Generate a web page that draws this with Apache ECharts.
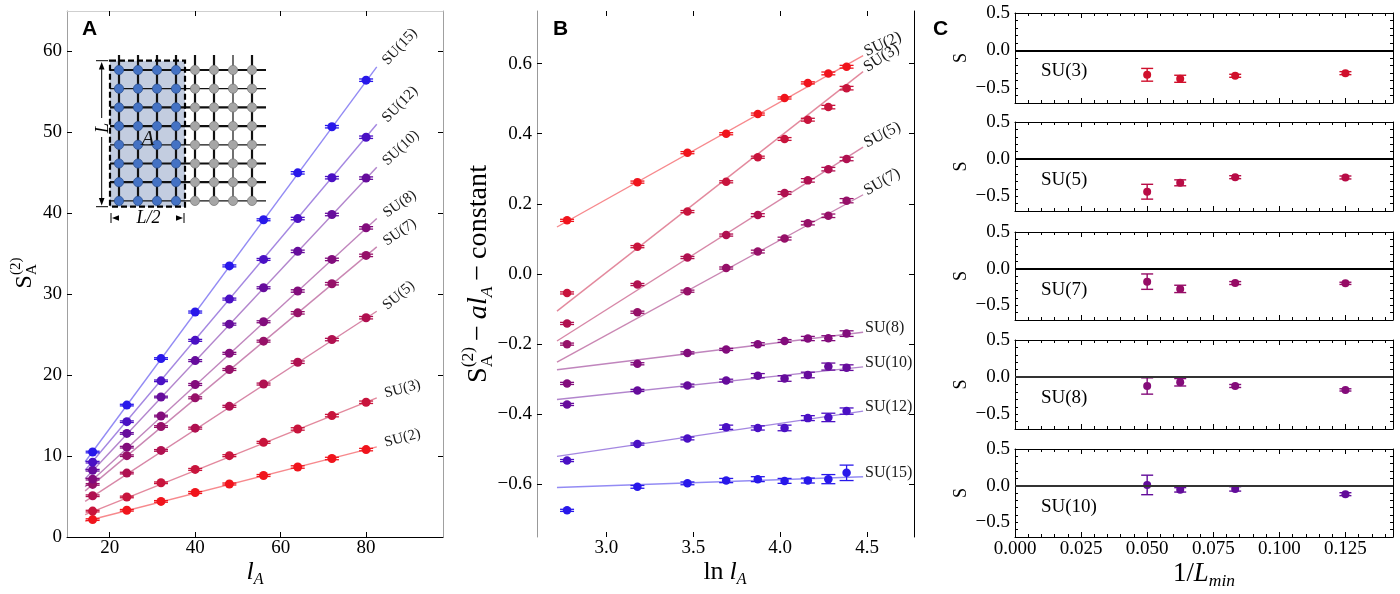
<!DOCTYPE html>
<html>
<head>
<meta charset="utf-8" />
<title>SU(N) Renyi entropy</title>
<script src="https://cdn.jsdelivr.net/npm/echarts@6/dist/echarts.min.js"></script>
<style>
  html, body { margin: 0; background: #fff; }
  #main { width: 1400px; height: 594px; }
</style>
</head>
<body>
<div id="main"></div>
<script>
// ---------- data ----------
var groups = ['SU(2)', 'SU(3)', 'SU(5)', 'SU(7)', 'SU(8)', 'SU(10)', 'SU(12)', 'SU(15)'];
var colors = ['#f0141c', '#c8143c', '#b01050', '#961068', '#820c7c', '#660c9c', '#4a10c4', '#2818ea'];

// panel A : S_A^(2) vs l_A
var lA = [16, 24, 32, 40, 48, 56, 64, 72, 80];
var entropyA = [
  [2.15, 3.3, 4.4, 5.5, 6.55, 7.6, 8.65, 9.7, 10.8],          // SU(2)
  [3.2, 4.95, 6.7, 8.35, 10.05, 11.7, 13.35, 15.0, 16.65],    // SU(3)
  [5.1, 7.9, 10.7, 13.45, 16.15, 18.9, 21.6, 24.4, 27.1],     // SU(5)
  [6.5, 10.05, 13.65, 17.2, 20.7, 24.2, 27.7, 31.3, 34.8],    // SU(7)
  [7.15, 11.1, 14.95, 18.85, 22.7, 26.6, 30.4, 34.3, 38.2],   // SU(8)
  [8.25, 12.8, 17.3, 21.8, 26.3, 30.8, 35.3, 39.85, 44.35],   // SU(10)
  [9.25, 14.25, 19.3, 24.3, 29.4, 34.3, 39.35, 44.4, 49.4],   // SU(12)
  [10.5, 16.3, 22.05, 27.8, 33.5, 39.2, 45.0, 50.7, 56.45]    // SU(15)
];
var errA = [0.1, 0.1, 0.1, 0.12, 0.12, 0.12, 0.15, 0.15, 0.15];
var fitAx = [14.25, 82.5];
var fitA = [[1.94, 11.13], [2.77, 17.2], [4.4, 27.9], [5.7, 35.85],
            [6.2, 39.35], [7.2, 45.7], [8.25, 51.0], [9.3, 58.1]];

// panel B : S_A^(2) - a l_A - constant vs ln l_A
var lnLA = [2.773, 3.178, 3.466, 3.689, 3.871, 4.025, 4.159, 4.277, 4.382];
var residB = [
  [0.153, 0.262, 0.346, 0.400, 0.456, 0.502, 0.545, 0.572, 0.591],
  [-0.054, 0.078, 0.178, 0.263, 0.333, 0.385, 0.440, 0.476, 0.530],
  [-0.141, -0.030, 0.047, 0.111, 0.168, 0.231, 0.267, 0.299, 0.328],
  [-0.200, -0.109, -0.049, 0.017, 0.064, 0.101, 0.145, 0.166, 0.209],
  [-0.312, -0.256, -0.225, -0.215, -0.200, -0.191, -0.184, -0.183, -0.170],
  [-0.372, -0.332, -0.318, -0.304, -0.290, -0.298, -0.288, -0.264, -0.267],
  [-0.532, -0.485, -0.469, -0.437, -0.439, -0.439, -0.411, -0.409, -0.391],
  [-0.674, -0.607, -0.597, -0.589, -0.585, -0.590, -0.589, -0.585, -0.567]
];
var errB = [
  [0.003, 0.003, 0.003, 0.003, 0.003, 0.003, 0.003, 0.004, 0.004],
  [0.003, 0.003, 0.003, 0.003, 0.003, 0.004, 0.004, 0.005, 0.005],
  [0.003, 0.003, 0.003, 0.003, 0.004, 0.004, 0.005, 0.005, 0.005],
  [0.003, 0.003, 0.003, 0.003, 0.004, 0.004, 0.005, 0.005, 0.006],
  [0.003, 0.003, 0.003, 0.003, 0.004, 0.004, 0.006, 0.007, 0.008],
  [0.003, 0.003, 0.004, 0.004, 0.006, 0.008, 0.008, 0.010, 0.008],
  [0.003, 0.003, 0.004, 0.006, 0.006, 0.008, 0.007, 0.012, 0.009],
  [0.003, 0.004, 0.004, 0.006, 0.007, 0.007, 0.007, 0.013, 0.022]
];
var fitBx = [2.715, 4.477];
var fitB = [[0.134, 0.623], [-0.106, 0.577], [-0.191, 0.362], [-0.251, 0.226],
            [-0.273, -0.166], [-0.358, -0.265], [-0.52, -0.391], [-0.609, -0.578]];

// panel C : s vs 1/L_min
var cGroups = ['SU(3)', 'SU(5)', 'SU(7)', 'SU(8)', 'SU(10)'];
var cColors = ['#d0102c', '#b80c46', '#960c66', '#840c7a', '#620c9a'];
var invLmin = [0.05, 0.0625, 0.0833, 0.125];
var sC = [
  [-0.324, -0.377, -0.337, -0.302],
  [-0.44, -0.32, -0.244, -0.248],
  [-0.177, -0.276, -0.196, -0.2],
  [-0.12, -0.07, -0.12, -0.173],
  [0.01, -0.057, -0.044, -0.116]
];
var sCerr = [
  [0.085, 0.047, 0.02, 0.02],
  [0.1, 0.04, 0.02, 0.02],
  [0.105, 0.05, 0.02, 0.015],
  [0.11, 0.05, 0.02, 0.015],
  [0.133, 0.03, 0.03, 0.02]
];

// tick labels
var ticksAx = [20, 40, 60, 80];
var ticksAy = [0, 10, 20, 30, 40, 50, 60];
var ticksBx = [3.0, 3.5, 4.0, 4.5];
var ticksBy = [-0.6, -0.4, -0.2, 0.0, 0.2, 0.4, 0.6];
var ticksCx = [0, 0.025, 0.05, 0.075, 0.1, 0.125];
var ticksCy = [-0.5, 0.0, 0.5];

// ---------- layout ----------
var SERIF = 'Liberation Serif';
var cTops = [13, 122, 232, 340, 449];
var cHeights = [90, 89, 88, 89, 88];

var grids = [
  { left: 67, top: 11, width: 376, height: 526 },
  { left: 537, top: 11, width: 377, height: 526 }
];
cTops.forEach(function (t, k) {
  grids.push({ left: 1015, top: t, width: 378, height: cHeights[k] });
});
grids.forEach(function (g) { g.containLabel = false; g.outerBoundsMode = 'none'; });

function fmt0(v) { return String(v); }
function fmt1(v) { return (v < -1e-9 ? '\u2212' : '') + Math.abs(v).toFixed(1); }
function fmt3(v) { return v.toFixed(3); }

// tick labels are drawn as serif graphic texts further down
function tickAxis(extra) {
  var a = {
    type: 'value',
    splitLine: { show: false },
    axisLine: { show: true, onZero: false, lineStyle: { color: '#000', width: 1 } },
    axisTick: { show: true, inside: true, length: 5, lineStyle: { color: '#000', width: 1 } },
    axisLabel: { show: false },
    minorTick: { show: false }
  };
  for (var k in extra) {
    if (extra[k] && typeof extra[k] === 'object' && !Array.isArray(extra[k]) && a[k]) {
      Object.assign(a[k], extra[k]);
    } else {
      a[k] = extra[k];
    }
  }
  return a;
}

var xAxes = [
  tickAxis({ gridIndex: 0, position: 'bottom', min: 10, max: 98, axisTick: { customValues: ticksAx } }),
  tickAxis({ gridIndex: 0, position: 'top', min: 10, max: 98,
    axisLine: { lineStyle: { color: '#cfcfcf' } }, axisTick: { customValues: ticksAx } }),
  tickAxis({ gridIndex: 1, position: 'bottom', min: 2.6, max: 4.77,
    axisLine: { show: false }, axisTick: { customValues: ticksBx } }),
  tickAxis({ gridIndex: 1, position: 'top', min: 2.6, max: 4.77,
    axisLine: { show: false }, axisTick: { customValues: ticksBx } })
];
var yAxes = [
  tickAxis({ gridIndex: 0, position: 'left', min: 0, max: 65,
    axisLine: { lineStyle: { color: '#a0a0a0' } }, axisTick: { customValues: ticksAy } }),
  tickAxis({ gridIndex: 0, position: 'right', min: 0, max: 65,
    axisLine: { lineStyle: { color: '#a0a0a0' } }, axisTick: { customValues: ticksAy } }),
  tickAxis({ gridIndex: 1, position: 'left', min: -0.75, max: 0.75,
    axisLine: { lineStyle: { color: '#999' } }, axisTick: { customValues: ticksBy } }),
  tickAxis({ gridIndex: 1, position: 'right', min: -0.75, max: 0.75,
    axisTick: { customValues: ticksBy } })
];
cGroups.forEach(function (g, k) {
  var gi = 2 + k;
  var minor = { show: true, splitNumber: 5, length: 3, lineStyle: { color: '#000' } };
  xAxes.push(tickAxis({ gridIndex: gi, position: 'bottom', min: 0, max: 0.143, interval: 0.025,
    minorTick: minor }));
  xAxes.push(tickAxis({ gridIndex: gi, position: 'top', min: 0, max: 0.143, interval: 0.025,
    minorTick: Object.assign({}, minor) }));
  yAxes.push(tickAxis({ gridIndex: gi, position: 'left', min: -0.7, max: 0.5, interval: 0.1,
    axisTick: { length: 3 } }));
  yAxes.push(tickAxis({ gridIndex: gi, position: 'right', min: -0.7, max: 0.5, interval: 0.1,
    axisTick: { length: 3 } }));
});

// error bar drawn through the axes
function errorBar(capHalf, color, width) {
  return function (params, api) {
    var x = api.value(0), y = api.value(1), e = api.value(2);
    var hi = api.coord([x, y + e]), lo = api.coord([x, y - e]);
    var st = { stroke: color, lineWidth: width };
    return {
      type: 'group',
      children: [
        { type: 'line', shape: { x1: hi[0], y1: hi[1], x2: lo[0], y2: lo[1] }, style: st },
        { type: 'line', shape: { x1: hi[0] - capHalf, y1: hi[1], x2: hi[0] + capHalf, y2: hi[1] }, style: st },
        { type: 'line', shape: { x1: lo[0] - capHalf, y1: lo[1], x2: lo[0] + capHalf, y2: lo[1] }, style: st }
      ]
    };
  };
}

var series = [];
var labelJobs = [];
var rotA = [15, 15, 40, 35, 35, 43, 46, 47];
var rotB = [25, 33, 28, 30, 0, 0, 0, 0];

groups.forEach(function (g, i) {
  var c = colors[i];
  // panel A
  series.push({ type: 'line', xAxisIndex: 0, yAxisIndex: 0, symbol: 'none', silent: true, z: 1,
    data: [[fitAx[0], fitA[i][0]], [fitAx[1], fitA[i][1]]],
    lineStyle: { color: c, opacity: 0.5, width: 1.4 } });
  labelJobs.push({ si: series.length - 1, pt: [fitAx[1], fitA[i][1]], text: g, rot: rotA[i], dx: 8, dy: -4, size: 15 });
  series.push({ type: 'custom', xAxisIndex: 0, yAxisIndex: 0, z: 2, silent: true,
    renderItem: errorBar(7, c, 1.3),
    data: lA.map(function (x, k) { return [x, entropyA[i][k], errA[k]]; }) });
  series.push({ type: 'scatter', xAxisIndex: 0, yAxisIndex: 0, z: 3, symbolSize: 9,
    itemStyle: { color: c, opacity: 1 },
    data: lA.map(function (x, k) { return [x, entropyA[i][k]]; }) });

  // panel B
  series.push({ type: 'line', xAxisIndex: 2, yAxisIndex: 2, symbol: 'none', silent: true, z: 1,
    data: [[fitBx[0], fitB[i][0]], [fitBx[1], fitB[i][1]]],
    lineStyle: { color: c, opacity: 0.5, width: 1.4 } });
  labelJobs.push({ si: series.length - 1, pt: [fitBx[1], fitB[i][1]], text: g, rot: rotB[i], dx: 2, dy: rotB[i] ? -3 : -4, size: 16 });
  series.push({ type: 'custom', xAxisIndex: 2, yAxisIndex: 2, z: 2, silent: true,
    renderItem: errorBar(7, c, 1.3),
    data: lnLA.map(function (x, k) { return [x, residB[i][k], errB[i][k]]; }) });
  series.push({ type: 'scatter', xAxisIndex: 2, yAxisIndex: 2, z: 3, symbolSize: 8.5,
    itemStyle: { color: c, opacity: 1 },
    data: lnLA.map(function (x, k) { return [x, residB[i][k]]; }) });
});

cGroups.forEach(function (g, k) {
  var c = cColors[k], ax = 4 + 2 * k;
  series.push({ type: 'custom', xAxisIndex: ax, yAxisIndex: ax, z: 2, silent: true,
    renderItem: errorBar(6, c, 1.4),
    data: invLmin.map(function (x, j) { return [x, sC[k][j], sCerr[k][j]]; }) });
  series.push({ type: 'scatter', xAxisIndex: ax, yAxisIndex: ax, z: 3, symbolSize: 8,
    itemStyle: { color: c, opacity: 1 },
    data: invLmin.map(function (x, j) { return [x, sC[k][j]]; }),
    markLine: { silent: true, symbol: ['none', 'none'], label: { show: false },
      lineStyle: { color: k < 3 ? '#000' : '#333', width: 2, type: 'solid' },
      emphasis: { disabled: true },
      data: [{ yAxis: 0 }] } });
});

var chart = echarts.init(document.getElementById('main'));
chart.setOption({
  animation: false,
  backgroundColor: '#fff',
  grid: grids,
  xAxis: xAxes,
  yAxis: yAxes,
  series: series
});

// ---------- texts and the lattice sketch ----------
var ctx = document.createElement('canvas').getContext('2d');
function serifFont(size, italic) {
  return (italic ? 'italic ' : '') + size + 'px ' + SERIF;
}
function mathLabel(pieces, cx, cy, rot, target) {
  function layout(scale) {
    var x = 0, hold = 0, out = [];
    pieces.forEach(function (p) {
      if (p.gap) { x += p.gap * scale; return; }
      var font = serifFont((p.s * scale).toFixed(1), p.it);
      ctx.font = font;
      var w = ctx.measureText(p.t).width;
      out.push({ x: x, y: (p.dy || 0) * scale, t: p.t, font: font });
      if (p.hold) { hold = w; } else { x += Math.max(w, hold); hold = 0; }
    });
    return { w: x, items: out };
  }
  var L = layout(1);
  if (target) L = layout(target / L.w);
  return {
    type: 'group', x: cx, y: cy, rotation: rot || 0, silent: true, z: 50,
    children: L.items.map(function (it) {
      return { type: 'text', x: it.x - L.w / 2, y: it.y,
        style: { text: it.t, font: it.font, fill: '#000', align: 'left', verticalAlign: 'middle' } };
    })
  };
}

function plainText(t, x, y, font, opts) {
  opts = opts || {};
  return { type: 'text', x: x, y: y, rotation: opts.rot || 0, silent: true, z: 50,
    style: { text: t, font: font, fill: opts.fill || '#000',
      align: opts.align || 'left', verticalAlign: 'middle' } };
}

function lattice() {
  var els = [];
  var cx0 = 119, dxl = 19, cy0 = 70, dyl = 18.7, n = 8;
  var rowW = [2.2, 1.2, 2.2, 2.2, 1.2, 2.2, 2.2, 1.2];
  var colW = [2.2, 2.2, 2.2, 2.2, 2.2, 2.2, 1.2, 2.2];
  els.push({ type: 'rect', z: 40, silent: true, shape: { x: 110, y: 60.7, width: 75, height: 146 },
    style: { fill: '#c3cde0' } });
  for (var r = 0; r < n; r++) {
    els.push({ type: 'line', z: 41, silent: true,
      shape: { x1: 110, y1: cy0 + r * dyl, x2: 266, y2: cy0 + r * dyl },
      style: { stroke: '#111', lineWidth: rowW[r] } });
  }
  for (var c = 0; c < n; c++) {
    els.push({ type: 'line', z: 41, silent: true,
      shape: { x1: cx0 + c * dxl, y1: 55, x2: cx0 + c * dxl, y2: 204 },
      style: { stroke: '#111', lineWidth: colW[c] } });
  }
  for (r = 0; r < n; r++) {
    for (c = 0; c < n; c++) {
      var blue = c < 4;
      els.push({ type: 'circle', z: 42, silent: true,
        shape: { cx: cx0 + c * dxl, cy: cy0 + r * dyl, r: 4.6 },
        style: { fill: blue ? '#4472c4' : '#a6a6a6', stroke: blue ? '#2b4f8e' : '#7c7c7c', lineWidth: 0.8 } });
    }
  }
  els.push({ type: 'rect', z: 43, silent: true, shape: { x: 110, y: 60.7, width: 75, height: 146 },
    style: { fill: 'none', stroke: '#000', lineWidth: 2.2, lineDash: [6, 3] } });
  // vertical L arrow
  var ax = 101.7, ink = { stroke: '#000', lineWidth: 1 };
  els.push({ type: 'line', z: 43, silent: true, shape: { x1: ax, y1: 66, x2: ax, y2: 118 }, style: ink });
  els.push({ type: 'line', z: 43, silent: true, shape: { x1: ax, y1: 137, x2: ax, y2: 202 }, style: ink });
  els.push({ type: 'line', z: 43, silent: true, shape: { x1: 96, y1: 60.7, x2: 108, y2: 60.7 }, style: ink });
  els.push({ type: 'line', z: 43, silent: true, shape: { x1: 96, y1: 206.7, x2: 108, y2: 206.7 }, style: ink });
  els.push({ type: 'polygon', z: 43, silent: true, shape: { points: [[ax, 62], [ax - 2.8, 69.5], [ax + 2.8, 69.5]] }, style: { fill: '#000' } });
  els.push({ type: 'polygon', z: 43, silent: true, shape: { points: [[ax, 205.5], [ax - 2.8, 198], [ax + 2.8, 198]] }, style: { fill: '#000' } });
  els.push(plainText('L', 103, 128, serifFont(18, true), { rot: Math.PI / 2, align: 'center' }));
  // horizontal L/2 marker
  els.push({ type: 'line', z: 43, silent: true, shape: { x1: 111, y1: 213, x2: 111, y2: 223 }, style: ink });
  els.push({ type: 'line', z: 43, silent: true, shape: { x1: 184, y1: 213, x2: 184, y2: 223 }, style: ink });
  els.push({ type: 'polygon', z: 43, silent: true, shape: { points: [[112, 218], [119, 215.3], [119, 220.7]] }, style: { fill: '#000' } });
  els.push({ type: 'polygon', z: 43, silent: true, shape: { points: [[183, 218], [176, 215.3], [176, 220.7]] }, style: { fill: '#000' } });
  els.push(plainText('L/2', 148.5, 218, serifFont(18, true), { align: 'center' }));
  els.push(plainText('A', 148, 139, serifFont(21, true), { align: 'center', fill: '#111' }));
  return els;
}

var g = lattice();

// serif tick labels placed through the axes
var TICKFONT = serifFont(19);
function xTickLabels(axisIndex, values, fmt, y) {
  values.forEach(function (v) {
    var px = chart.convertToPixel({ xAxisIndex: axisIndex }, v);
    g.push(plainText(fmt(v), px, y, TICKFONT, { align: 'center' }));
  });
}
function yTickLabels(axisIndex, values, fmt, x) {
  values.forEach(function (v) {
    var py = chart.convertToPixel({ yAxisIndex: axisIndex }, v);
    g.push(plainText(fmt(v), x, py, TICKFONT, { align: 'right' }));
  });
}
xTickLabels(0, ticksAx, fmt0, 548);
yTickLabels(0, ticksAy, fmt0, 62);
xTickLabels(2, ticksBx, fmt1, 548);
yTickLabels(2, ticksBy, fmt1, 532);
cGroups.forEach(function (name, k) {
  yTickLabels(4 + 2 * k, ticksCy, fmt1, 1010);
});
xTickLabels(4 + 2 * (cGroups.length - 1), ticksCx, fmt3, 549);

labelJobs.forEach(function (j) {
  var p = chart.convertToPixel({ seriesIndex: j.si }, j.pt);
  g.push({ type: 'text', x: p[0] + j.dx, y: p[1] + j.dy, rotation: j.rot * Math.PI / 180,
    silent: true, z: 50,
    style: { text: j.text, font: serifFont(j.size), fill: '#1a1a1a', align: 'left', verticalAlign: 'middle' } });
});

var BOLD = 'bold 21px Liberation Sans';
g.push(plainText('A', 82, 29, BOLD));
g.push(plainText('B', 553, 29, BOLD));
g.push(plainText('C', 933, 29, BOLD));

g.push(mathLabel([{ t: 'S', s: 24 }, { t: '(2)', s: 15, dy: -9, hold: true }, { t: 'A', s: 15, dy: 7 }],
  25, 273, Math.PI / 2));
g.push(mathLabel([
  { t: 'S', s: 24 }, { t: '(2)', s: 15, dy: -9, hold: true }, { t: 'A', s: 15, dy: 7 },
  { gap: 5 }, { t: '\u2212', s: 24 }, { gap: 5 },
  { t: 'a', s: 24, it: true }, { t: 'l', s: 24, it: true }, { t: 'A', s: 15, it: true, dy: 7 },
  { gap: 5 }, { t: '\u2212', s: 24 }, { gap: 5 }, { t: 'constant', s: 24 }
], 479, 274, Math.PI / 2, 218));
g.push(mathLabel([{ t: 'l', s: 26, it: true }, { t: 'A', s: 16, it: true, dy: 8 }], 255, 572));
g.push(mathLabel([{ t: 'ln', s: 26 }, { gap: 6 }, { t: 'l', s: 26, it: true }, { t: 'A', s: 16, it: true, dy: 8 }], 725, 572));
g.push(mathLabel([{ t: '1/', s: 26 }, { t: 'L', s: 26, it: true }, { t: 'min', s: 17, it: true, dy: 7 }], 1204, 574, 0, 62));

cGroups.forEach(function (name, k) {
  g.push(plainText(name, 1041, cTops[k] + 58.5, serifFont(19)));
  g.push(mathLabel([{ t: 'S', s: 18 }], 961, cTops[k] + cHeights[k] / 2, Math.PI / 2));
});

chart.setOption({ graphic: { elements: g } });
</script>
</body>
</html>
